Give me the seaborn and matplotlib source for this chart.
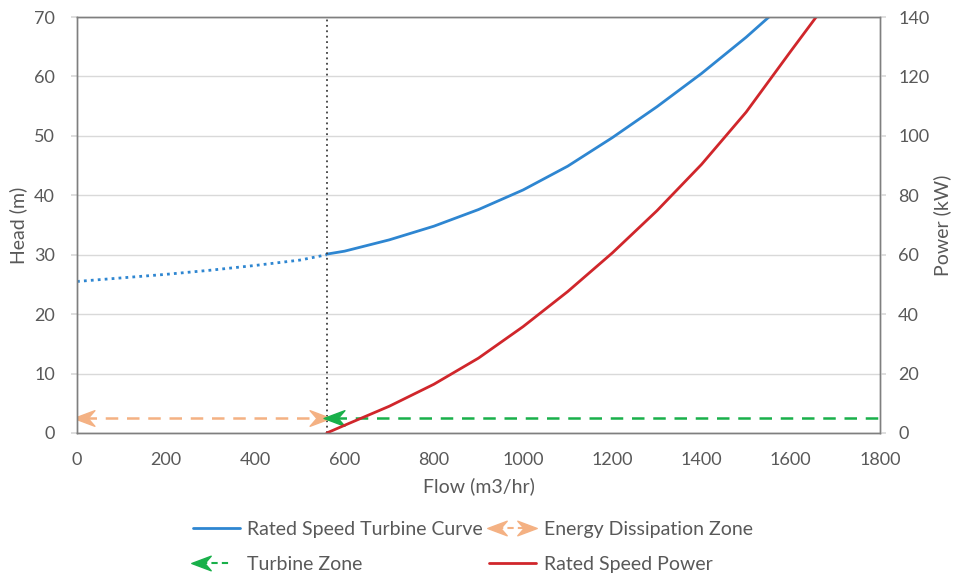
import numpy as np
import pandas as pd
import matplotlib
matplotlib.use("Agg")
import matplotlib.pyplot as plt
import seaborn as sns
from matplotlib.path import Path
from matplotlib.lines import Line2D
from matplotlib.legend_handler import HandlerBase

# ==============================
# Data
# ==============================
flow_dotted = [0, 100, 200, 300, 400, 500, 560]
head_dotted = [25.5, 26.1, 26.7, 27.4, 28.2, 29.1, 30.0]

flow_turbine = [560, 600, 700, 800, 900, 1000, 1100, 1200, 1300, 1400, 1500, 1551]
head_turbine = [30.1, 30.6, 32.5, 34.8, 37.6, 40.9, 44.9, 49.7, 54.9, 60.5, 66.6, 70.0]

flow_power = [560, 600, 700, 800, 900, 1000, 1100, 1200, 1300, 1400, 1500, 1600, 1657]
power_kw = [0, 2.6, 9.0, 16.4, 25.2, 35.8, 47.6, 60.6, 74.8, 90.4, 108.0, 128.5, 140.0]

boundary_flow = 560
zone_head = 2.5
flow_min, flow_max = 0, 1800

BLUE = "#2e86d1"
RED = "#d0262b"
ORANGE = "#f4b183"
GREEN = "#19b04a"
TXT = "#595959"

# stealth-style arrow heads pointing left / right
head_left = Path([(-1, 0), (1, 0.75), (0.35, 0), (1, -0.75), (-1, 0)],
                 [Path.MOVETO, Path.LINETO, Path.LINETO, Path.LINETO, Path.CLOSEPOLY])
head_right = Path([(1, 0), (-1, 0.75), (-0.35, 0), (-1, -0.75), (1, 0)],
                  [Path.MOVETO, Path.LINETO, Path.LINETO, Path.LINETO, Path.CLOSEPOLY])


class ArrowLegend(HandlerBase):
    """Dashed line with arrow heads at chosen ends"""
    def __init__(self, left=True, right=False):
        super().__init__()
        self.left, self.right = left, right

    def create_artists(self, legend, orig_handle, xdescent, ydescent, width, height, fontsize, trans):
        y = height / 2 - ydescent
        x0, x1 = -xdescent, width - xdescent
        c = orig_handle.get_color()
        arts = [Line2D([x0 + 6, x1 - 6], [y, y], color=c, ls=(0, (3, 2)), lw=1.5, transform=trans)]
        if self.left:
            arts.append(Line2D([x0 + 6], [y], marker=head_left, ms=14, color=c, mec=c, ls='', transform=trans))
        if self.right:
            arts.append(Line2D([x1 - 6], [y], marker=head_right, ms=14, color=c, mec=c, ls='', transform=trans))
        return arts


# ==============================
# Plot
# ==============================
sns.set_theme(style="white")
plt.rcParams['font.family'] = ['Lato', 'DejaVu Sans']
plt.rcParams['text.color'] = TXT
plt.rcParams['axes.labelcolor'] = TXT
plt.rcParams['xtick.color'] = TXT
plt.rcParams['ytick.color'] = TXT

fig = plt.figure(figsize=(9.59, 5.77), dpi=100)
ax = fig.add_axes([0.0803, 0.2496, 0.8373, 0.7209])
ax2 = ax.twinx()

sns.lineplot(x=flow_dotted, y=head_dotted, ax=ax, color=BLUE, lw=2, ls=(0, (1, 1.5)))
sns.lineplot(x=flow_turbine, y=head_turbine, ax=ax, color=BLUE, lw=2)
sns.lineplot(x=flow_power, y=power_kw, ax=ax2, color=RED, lw=2)

ax.axvline(boundary_flow, color="#404040", lw=1.3, ls=(0, (1, 2)))

# energy dissipation zone (both directions)
ax.plot([flow_min + 15, boundary_flow - 15], [zone_head, zone_head], color=ORANGE, lw=1.8, ls=(0, (5, 3.5)))
ax.plot([flow_min + 15], [zone_head], marker=head_left, ms=15, color=ORANGE, ls='')
ax.plot([boundary_flow - 15], [zone_head], marker=head_right, ms=15, color=ORANGE, ls='')
# turbine zone
ax.plot([boundary_flow + 15, flow_max], [zone_head, zone_head], color=GREEN, lw=1.8, ls=(0, (5, 3.5)))
ax.plot([boundary_flow + 15], [zone_head], marker=head_left, ms=15, color=GREEN, ls='')

ax.set_xlim(flow_min, flow_max)
ax.set_ylim(0, 70)
ax2.set_ylim(0, 140)
ax.set_xticks(range(0, 1801, 200))
ax.set_yticks(range(0, 71, 10))
ax2.set_yticks(range(0, 141, 20))
ax.yaxis.grid(True, color="#d9d9d9", lw=1)
ax.set_axisbelow(True)

for a in (ax, ax2):
    for s in a.spines.values():
        s.set_color("#7f7f7f")
        s.set_linewidth(1)
ax.tick_params(axis='x', direction='in', length=5, labelsize=13, pad=14, color="#7f7f7f")
ax.tick_params(axis='y', direction='out', length=4, labelsize=13, pad=12, color="#d9d9d9")
ax2.tick_params(axis='y', direction='out', length=4, labelsize=13, pad=9, color="#d9d9d9")

ax.set_xlabel("Flow (m3/hr)", fontsize=14, labelpad=6)
ax.set_ylabel("Head (m)", fontsize=14, labelpad=5)
ax2.set_ylabel("Power (kW)", fontsize=14, labelpad=3)

# ==============================
# Legend
# ==============================
h_blue = Line2D([], [], color=BLUE, lw=2)
h_green = Line2D([], [], color=GREEN)
h_orange = Line2D([], [], color=ORANGE)
h_red = Line2D([], [], color=RED, lw=2)
fig.legend([h_blue, h_green, h_orange, h_red],
           ["Rated Speed Turbine Curve", "Turbine Zone", "Energy Dissipation Zone", "Rated Speed Power"],
           handler_map={h_green: ArrowLegend(left=True), h_orange: ArrowLegend(left=True, right=True)},
           ncol=2, loc="center", bbox_to_anchor=(0.493, 0.052), frameon=False, fontsize=14,
           handlelength=2.4, handletextpad=0.4, columnspacing=0.3, labelspacing=0.9)

fig.savefig("out.png", dpi=100)
